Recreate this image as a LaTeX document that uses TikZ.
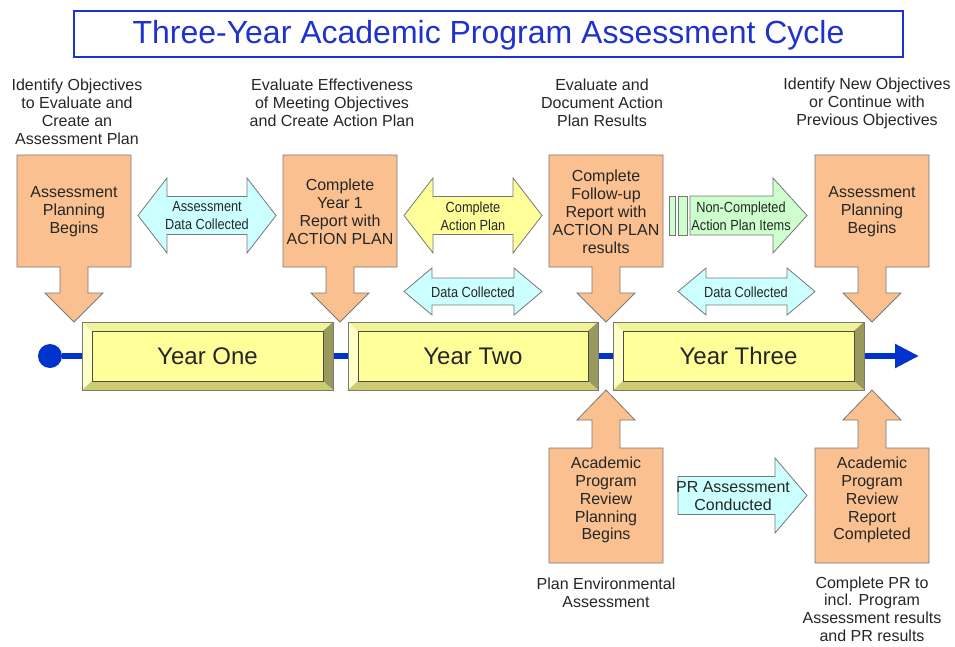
\documentclass[tikz,border=0pt]{standalone}
\usepackage{fontspec}
\setmainfont{Liberation Sans}
\newfontfamily\narrowfont[FakeStretch=0.87]{Liberation Sans}
\usetikzlibrary{arrows.meta}
\definecolor{peach}{RGB}{250,192,144}
\definecolor{paleblue}{RGB}{204,255,255}
\definecolor{paleyellow}{RGB}{255,255,153}
\definecolor{palegreen}{RGB}{204,255,204}
\definecolor{lineblue}{RGB}{0,51,204}
\definecolor{titleblue}{RGB}{30,50,205}
\definecolor{edgegray}{RGB}{120,120,120}
\definecolor{yearface}{RGB}{255,255,153}
\definecolor{beveltop}{RGB}{242,242,150}
\definecolor{bevelleft}{RGB}{255,255,200}
\definecolor{bevelright}{RGB}{153,153,92}
\definecolor{bevelbottom}{RGB}{204,204,112}
\tikzstyle{callout}=[draw=edgegray, line width=0.6pt, fill=peach]
\tikzstyle{flow}=[draw=edgegray, line width=0.6pt]
\tikzstyle{boxtext}=[align=center, inner sep=0pt, text=black!85, font=\fontsize{12}{13.4}\selectfont]
\tikzstyle{notetext}=[boxtext, font=\fontsize{12}{13.5}\selectfont]
\tikzstyle{arrowtext}=[align=center, inner sep=0pt, text=black!85, font=\narrowfont\fontsize{11}{13.5}\selectfont]
\tikzstyle{yeartext}=[inner sep=0pt, text=black!85, font=\fontsize{18}{20}\selectfont]
\tikzstyle{dot}=[circle, fill=lineblue, inner sep=0pt, minimum size=18pt]
% callout box with arrow down to the timeline (#1 = centre x, #2 = top y)
\newcommand{\calldown}[2]{%
  \filldraw[callout] ({#1-57},#2) -- ({#1+57},#2) -- ({#1+57},{#2+112}) -- ({#1+14},{#2+112})
    -- ({#1+14},{#2+138}) -- ({#1+29},{#2+138}) -- (#1,{#2+167}) -- ({#1-29},{#2+138})
    -- ({#1-14},{#2+138}) -- ({#1-14},{#2+112}) -- ({#1-57},{#2+112}) -- cycle;}
% callout box with arrow up to the timeline (#1 = centre x, #2 = bottom y)
\newcommand{\callup}[2]{%
  \filldraw[callout] ({#1-57},#2) -- ({#1+57},#2) -- ({#1+57},{#2-115}) -- ({#1+14},{#2-115})
    -- ({#1+14},{#2-143}) -- ({#1+29},{#2-143}) -- (#1,{#2-173}) -- ({#1-29},{#2-143})
    -- ({#1-14},{#2-143}) -- ({#1-14},{#2-115}) -- ({#1-57},{#2-115}) -- cycle;}
% block double arrow: [fill] x1, x2, mid y, half body, half head, head length
\newcommand{\dblarrow}[7][]{%
  \filldraw[flow, #1] (#2,#4) -- ({#2+#7},{#4-#6}) -- ({#2+#7},{#4-#5}) -- ({#3-#7},{#4-#5})
    -- ({#3-#7},{#4-#6}) -- (#3,#4) -- ({#3-#7},{#4+#6}) -- ({#3-#7},{#4+#5})
    -- ({#2+#7},{#4+#5}) -- ({#2+#7},{#4+#6}) -- cycle;}
% block single arrow: [fill] x1, tip x, mid y, half body, half head, head length
\newcommand{\rarrow}[7][]{%
  \filldraw[flow, #1] (#2,{#4-#5}) -- ({#3-#7},{#4-#5}) -- ({#3-#7},{#4-#6}) -- (#3,#4)
    -- ({#3-#7},{#4+#6}) -- ({#3-#7},{#4+#5}) -- (#2,{#4+#5}) -- cycle;}
% bevelled year box: x1, x2, name, text
\newcommand{\yearbox}[4]{%
  \fill[beveltop] (#1,322) -- (#2,322) -- ({#2-10},331) -- ({#1+10},331) -- cycle;
  \fill[bevelleft] (#1,322) -- ({#1+10},331) -- ({#1+10},381) -- (#1,390) -- cycle;
  \fill[bevelright] (#2,322) -- (#2,390) -- ({#2-10},381) -- ({#2-10},331) -- cycle;
  \fill[bevelbottom] (#1,390) -- ({#1+10},381) -- ({#2-10},381) -- (#2,390) -- cycle;
  \filldraw[fill=yearface, draw=black!70, line width=0.6pt] ({#1+10},331) rectangle ({#2-10},381);
  \draw[edgegray, line width=0.6pt] (#1,322) rectangle (#2,390);
  \node[yeartext] (#3) at ({(#1+#2)/2},356) {#4};}

\begin{document}
\begin{tikzpicture}[x=0.75pt, y=-0.75pt]
  \useasboundingbox (0,0) rectangle (955,646);

  % title
  \draw[titleblue, line width=0.8pt] (74,11) rectangle (903,57);
  \node[inner sep=0pt, text=titleblue, font=\fontsize{24}{26}\selectfont] (title) at (488.5,35) {Three-Year Academic Program Assessment Cycle};

  % timeline
  \node[dot] (start) at (50,356) {};
  \coordinate (tlend) at (919,356);
  \draw[lineblue, line width=4.5pt, -{Triangle[length=18pt, width=17pt]}] (start) -- (tlend);

  \yearbox{82}{333}{year1}{Year One}
  \yearbox{348}{598}{year2}{Year Two}
  \yearbox{613}{864}{year3}{Year Three}

  % callouts
  \calldown{74}{155}
  \calldown{340}{155}
  \calldown{606}{155}
  \calldown{872}{155}
  \callup{606}{563}
  \callup{872}{563}

  % block arrows
  \dblarrow[fill=paleblue]{138}{276}{215.5}{19}{37.5}{29}
  \dblarrow[fill=paleyellow]{404}{542}{215.5}{19}{37.5}{29}
  \dblarrow[fill=paleblue]{404}{542}{291.5}{13.5}{23.5}{28}
  \dblarrow[fill=paleblue]{678}{815}{291.5}{13.5}{23.5}{28}
  \filldraw[flow, fill=palegreen] (669,196) rectangle (675,235);
  \filldraw[flow, fill=palegreen] (678,196) rectangle (687,235);
  \rarrow[fill=palegreen]{690}{807}{215.5}{19.5}{37.5}{34}
  \rarrow[fill=paleblue]{678}{807}{495.5}{19}{37.5}{32}

  % top notes
  \node[notetext] (obj1) at (77,112) {Identify Objectives\\to Evaluate and\\Create an\\Assessment Plan};
  \node[notetext] (obj2) at (332,103) {Evaluate Effectiveness\\of Meeting Objectives\\and Create Action Plan};
  \node[notetext] (obj3) at (602,103) {Evaluate and\\Document Action\\Plan Results};
  \node[notetext] (obj4) at (867,103) {Identify New Objectives\\or Continue with\\Previous Objectives};

  % box texts
  \node[boxtext] (plan1) at (74,212) {Assessment\\Planning\\Begins};
  \node[boxtext] (report1) at (340,212) {Complete\\Year 1\\Report with\\ACTION PLAN};
  \node[boxtext] (followup) at (606,212) {Complete\\Follow-up\\Report with\\ACTION PLAN\\results};
  \node[boxtext] (plan2) at (872,212) {Assessment\\Planning\\Begins};
  \node[boxtext] (apr1) at (606,500) {Academic\\Program\\Review\\Planning\\Begins};
  \node[boxtext] (apr2) at (872,500) {Academic\\Program\\Review\\Report\\Completed};

  % arrow texts
  \node[arrowtext] (data1) at (207,216) {Assessment\\Data Collected};
  \node[arrowtext] (action) at (473,216) {Complete\\Action Plan};
  \node[arrowtext] (data2) at (473,292) {Data Collected};
  \node[arrowtext] (data3) at (746,292) {Data Collected};
  \node[arrowtext] (noncomp) at (741,216) {Non-Completed\\Action Plan Items};
  \node[boxtext] (prconducted) at (733,496) {PR Assessment\\Conducted};

  % bottom notes
  \node[notetext] (envplan) at (606,593) {Plan Environmental\\Assessment};
  \node[notetext, font=\fontsize{12}{13.2}\selectfont] (prdone) at (872,609) {Complete PR to\\incl. Program\\Assessment results\\and PR results};
\end{tikzpicture}
\end{document}
